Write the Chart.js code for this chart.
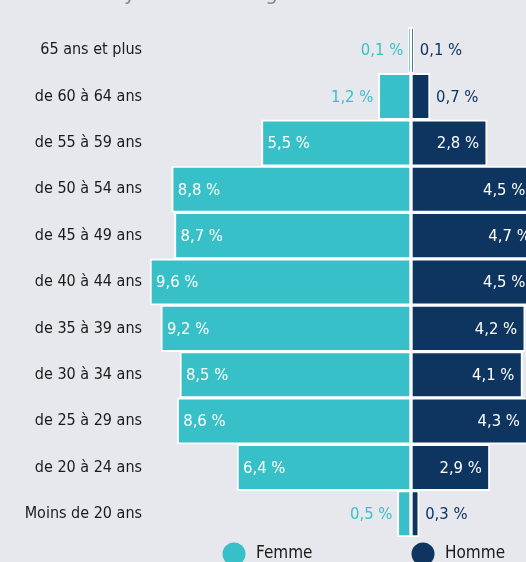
<!DOCTYPE html>
<html lang="fr">
<head>
<meta charset="utf-8">
<title>Pyramide des âges</title>
<script src="https://cdn.jsdelivr.net/npm/chart.js@4.4.1/dist/chart.umd.min.js"></script>
<style>
    html, body {
        margin: 0;
        padding: 0;
        overflow: hidden;
        background: #e7e8ed;
    }
    #wrap {
        position: relative;
        width: 560px;
        height: 562px;
    }
    canvas {
        display: block;
    }
</style>
</head>
<body>
<div id="wrap">
    <canvas id="pyramid" width="560" height="562"></canvas>
</div>
<script>
// Age groups, top to bottom
const ageGroups = [
    "65 ans et plus",
    "de 60 à 64 ans",
    "de 55 à 59 ans",
    "de 50 à 54 ans",
    "de 45 à 49 ans",
    "de 40 à 44 ans",
    "de 35 à 39 ans",
    "de 30 à 34 ans",
    "de 25 à 29 ans",
    "de 20 à 24 ans",
    "Moins de 20 ans"
];

// Share of employees, in %
const femmeValues = [0.1, 1.2, 5.5, 8.8, 8.7, 9.6, 9.2, 8.5, 8.6, 6.4, 0.5];
const hommeValues = [0.1, 0.7, 2.8, 4.5, 4.7, 4.5, 4.2, 4.1, 4.3, 2.9, 0.3];

const seriesLabels = ["Femme", "Homme"];

const TEAL = "#38c0c8";
const NAVY = "#0e3560";
const FONT = "'DejaVu Sans Condensed', 'Liberation Sans Narrow', sans-serif";

const formatPct = (v) => Math.abs(v).toFixed(1).replace(".", ",") + " %";

/**
 * Writes the value of every bar, inside the bar when it is wide enough,
 * next to it otherwise.
 */
const valueLabels = {
    id: "valueLabels",
    afterDatasetsDraw(chart) {
        const { ctx } = chart;
        ctx.save();
        ctx.font = `16.5px ${FONT}`;
        ctx.textBaseline = "middle";
        chart.data.datasets.forEach((ds, di) => {
            const meta = chart.getDatasetMeta(di);
            meta.data.forEach((bar, i) => {
                const v = ds.data[i];
                const inside = Math.abs(v) >= 2;
                const y = bar.y + 1;
                if (di === 0) {
                    // women: bar goes left, bar.x is the left end
                    if (inside) {
                        ctx.fillStyle = "#ffffff";
                        ctx.textAlign = "left";
                        ctx.fillText(formatPct(v), bar.x + 6, y);
                    } else {
                        ctx.fillStyle = TEAL;
                        ctx.textAlign = "right";
                        ctx.fillText(formatPct(v), bar.x - 5, y);
                    }
                } else {
                    if (inside) {
                        ctx.fillStyle = "#ffffff";
                        ctx.textAlign = "right";
                        ctx.fillText(formatPct(v), bar.x - 8, y);
                    } else {
                        ctx.fillStyle = NAVY;
                        ctx.textAlign = "left";
                        ctx.fillText(formatPct(v), bar.x + 6, y);
                    }
                }
            });
        });
        ctx.restore();
    }
};

/**
 * Title cut by the top edge and the round legend under the chart.
 */
const decorations = {
    id: "decorations",
    afterDraw(chart) {
        const { ctx, chartArea, scales } = chart;
        const zero = scales.x.getPixelForValue(0);
        ctx.save();

        // title, mostly outside of the picture
        ctx.font = `22px ${FONT}`;
        ctx.fillStyle = "#888888";
        ctx.textAlign = "left";
        ctx.textBaseline = "alphabetic";
        ctx.fillText("Pyramide des âges des salariés en 2022", 112, 0);

        // legend
        const y = chartArea.bottom + 17;
        const items = [
            { x: zero - 177, color: TEAL, text: seriesLabels[0] },
            { x: zero + 12, color: NAVY, text: seriesLabels[1] }
        ];
        ctx.font = `17px ${FONT}`;
        ctx.textBaseline = "middle";
        items.forEach(item => {
            ctx.fillStyle = item.color;
            ctx.beginPath();
            ctx.arc(item.x, y, 11.5, 0, Math.PI * 2);
            ctx.fill();
            ctx.fillStyle = "#1a1a1a";
            ctx.fillText(item.text, item.x + 22, y);
        });
        ctx.restore();
    }
};

const ctx = document.getElementById("pyramid").getContext("2d");

new Chart(ctx, {
    type: "bar",
    data: {
        labels: ageGroups,
        datasets: [
            {
                label: seriesLabels[0],
                data: femmeValues.map(v => -v), // women drawn on the left side
                backgroundColor: TEAL,
                borderColor: "#ffffff",
                borderWidth: 2,
                borderSkipped: false,
                barPercentage: 1,
                categoryPercentage: 1
            },
            {
                label: seriesLabels[1],
                data: hommeValues,
                backgroundColor: NAVY,
                borderColor: "#ffffff",
                borderWidth: 2,
                borderSkipped: false,
                barPercentage: 1,
                categoryPercentage: 1
            }
        ]
    },
    options: {
        indexAxis: "y",
        responsive: false,
        animation: false,
        layout: {
            padding: { top: 27, bottom: 25, left: 0, right: 0 }
        },
        scales: {
            x: {
                display: false,
                stacked: true,
                min: -9.6,
                max: 5.48
            },
            y: {
                stacked: true,
                grid: { display: false, drawTicks: false },
                border: { display: false },
                ticks: {
                    padding: 8,
                    color: "#1a1a1a",
                    font: { family: FONT, size: 16 }
                },
                afterFit(scale) {
                    scale.width = 150;
                }
            }
        },
        plugins: {
            legend: { display: false },
            tooltip: { enabled: false }
        }
    },
    plugins: [valueLabels, decorations]
});
</script>
</body>
</html>
